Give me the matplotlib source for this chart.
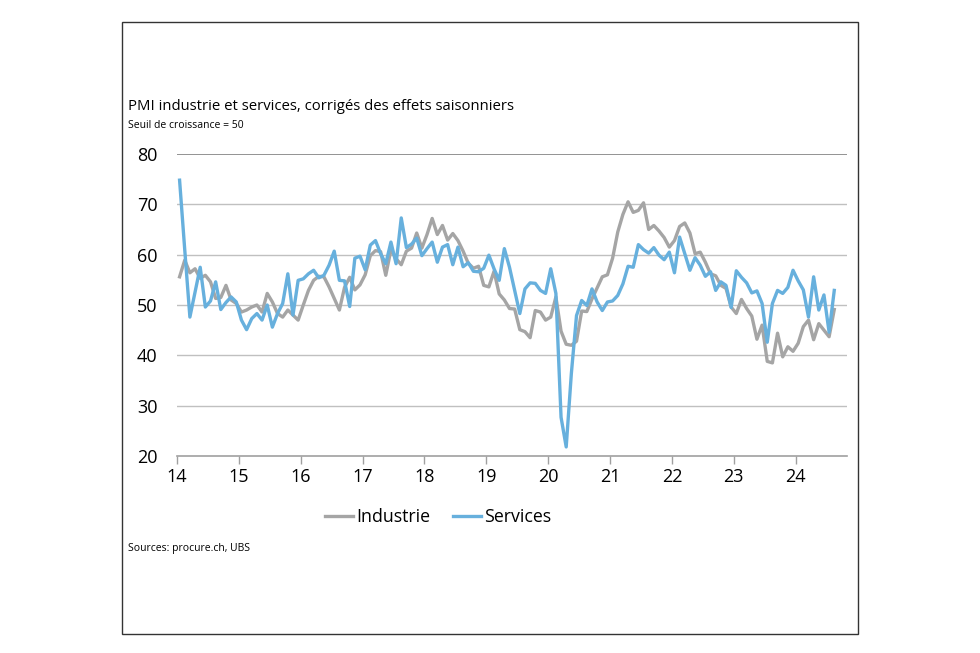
import numpy as np
import matplotlib.pyplot as plt
from matplotlib.patches import Rectangle

# Monthly PMI, Jan 2014 - Aug 2024
industrie = [
    55.6, 58.9, 56.4, 57.2, 55.3, 55.9, 54.6, 51.3, 51.5, 53.9, 51.0, 50.3,
    48.6, 49.0, 49.6, 50.0, 48.6, 52.3, 50.6, 48.3, 47.6, 49.0, 48.0, 47.0,
    50.0, 52.9, 54.9, 55.7, 55.6, 53.6, 51.3, 49.0, 53.5, 55.5, 53.0, 54.0,
    56.0, 59.8, 60.8, 60.6, 55.9, 61.0, 59.2, 58.0, 60.7, 61.3, 64.3, 61.3,
    64.0, 67.2, 64.0, 65.8, 62.9, 64.2, 62.8, 60.7, 58.3, 57.3, 57.7, 53.9,
    53.6, 56.7, 52.2, 51.0, 49.3, 49.2, 45.1, 44.7, 43.5, 48.9, 48.6, 47.0,
    47.6, 51.6, 44.8, 42.2, 42.0, 42.8, 48.8, 48.7, 51.2, 53.4, 55.6, 56.0,
    59.3, 64.5, 68.0, 70.5, 68.4, 68.8, 70.3, 65.0, 65.8, 64.7, 63.4, 61.5,
    62.8, 65.6, 66.3, 64.3, 60.2, 60.5, 58.5, 56.2, 55.8, 53.9, 53.3, 49.6,
    48.3, 51.1, 49.3, 47.8, 43.2, 46.0, 38.8, 38.5, 44.4, 39.7, 41.7, 40.8,
    42.4, 45.7, 47.0, 43.1, 46.3, 45.0, 43.7, 49.1,
]
services = [
    74.8, 61.0, 47.6, 52.6, 57.5, 49.6, 50.8, 54.6, 49.1, 50.5, 51.6, 50.6,
    47.0, 45.1, 47.3, 48.3, 47.0, 50.0, 45.6, 48.3, 50.3, 56.2, 48.0, 54.9,
    55.2, 56.2, 56.9, 55.4, 55.9, 57.9, 60.7, 54.9, 54.8, 49.7, 59.3, 59.7,
    57.0, 61.9, 62.8, 60.2, 58.2, 62.5, 58.2, 67.3, 61.4, 62.1, 63.3, 59.8,
    61.2, 62.5, 58.5, 61.5, 62.0, 58.0, 61.5, 57.6, 58.4, 56.7, 56.6, 57.3,
    59.9, 57.2, 54.9, 61.2, 57.5, 52.9, 48.3, 53.2, 54.4, 54.3, 52.9, 52.3,
    57.2, 52.3, 27.7, 21.8, 36.4, 47.9, 50.9, 49.9, 53.2, 50.6, 48.9, 50.6,
    50.8, 51.9, 54.2, 57.7, 57.5, 62.0, 61.0, 60.3, 61.4, 59.9, 59.0, 60.5,
    56.4, 63.5, 60.2, 56.9, 59.4, 57.9, 55.7, 56.6, 52.9, 54.6, 53.9, 49.5,
    56.8, 55.5, 54.4, 52.4, 52.8, 50.3, 42.6, 50.3, 52.9, 52.3, 53.5, 56.9,
    54.8, 53.0, 47.6, 55.6, 49.0, 52.0, 44.6, 52.9,
]
years = list(range(2014, 2025))
year_labels = [str(y)[2:] for y in years]

plt.rcParams['font.family'] = ['Open Sans', 'DejaVu Sans']

fig = plt.figure(figsize=(9.8, 6.53), dpi=100)
fig.patches.append(Rectangle((122 / 980, 1 - 634 / 653), 736 / 980, 612 / 653,
                             transform=fig.transFigure, fill=False,
                             edgecolor='#333333', linewidth=1.0))

ax = fig.add_axes([177 / 980, 1 - 456 / 653, 670 / 980, 302 / 653])
x = 2014 + (np.arange(len(industrie)) + 0.5) / 12

ax.plot(x, industrie, color='#a5a5a5', lw=2.4, label='Industrie', solid_joinstyle='round')
ax.plot(x, services, color='#67b0dd', lw=2.4, label='Services', solid_joinstyle='round')

ax.set_xlim(2014, 2014 + 670 / 61.86)
ax.set_ylim(20, 80)
ax.set_yticks(range(20, 81, 10))
ax.set_xticks(years)
ax.set_xticklabels(year_labels)
for v in range(30, 80, 10):
    ax.axhline(v, color='#c0c0c0', lw=1.0, zorder=0)
ax.axhline(80, color='#808080', lw=1.2, zorder=0)

for s in ['top', 'right', 'left']:
    ax.spines[s].set_visible(False)
ax.spines['bottom'].set_color('#a0a0a0')
ax.spines['bottom'].set_linewidth(1.2)
ax.tick_params(axis='y', length=0, labelsize=13, pad=14, colors='#000000')
ax.tick_params(axis='x', length=6, width=1, color='#a0a0a0', labelsize=13, pad=3)

fig.text(128 / 980, 1 - 107 / 653, 'PMI industrie et services, corrigés des effets saisonniers',
         fontsize=10.7, va='center', ha='left')
fig.text(128 / 980, 1 - 126 / 653, 'Seuil de croissance = 50', fontsize=7.5, va='center', ha='left')
fig.text(128 / 980, 1 - 549 / 653, 'Sources: procure.ch, UBS', fontsize=7.5, va='center', ha='left')

fig.legend(loc='center', bbox_to_anchor=(438 / 980, 1 - 517 / 653), ncol=2, frameon=False,
           fontsize=12.8, handlelength=1.6, handletextpad=0.15, columnspacing=1.3)

fig.savefig('out.png', dpi=100)
